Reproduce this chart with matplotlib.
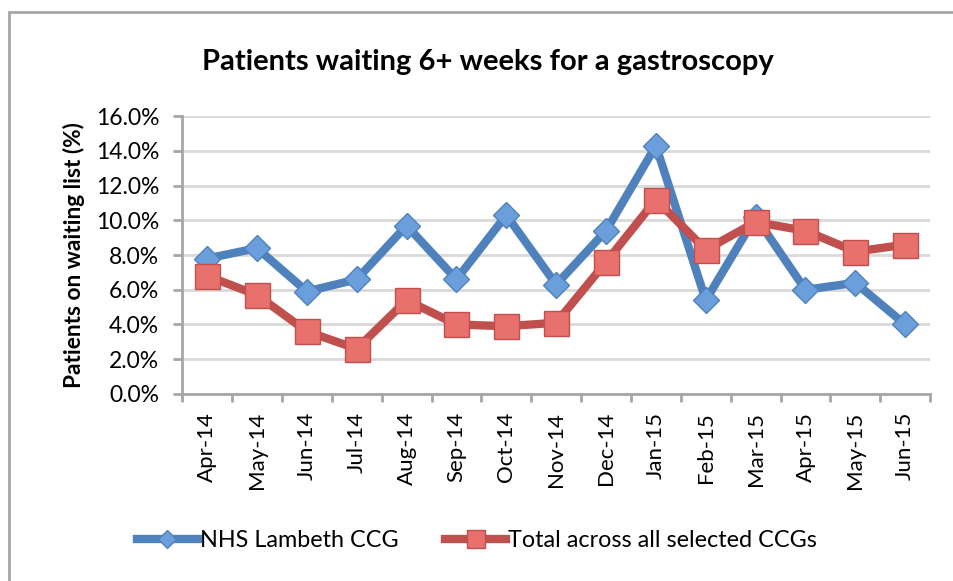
import matplotlib.pyplot as plt
from matplotlib.patches import Rectangle
from matplotlib.ticker import FuncFormatter, FixedLocator

plt.rcParams['font.family'] = ['Lato', 'DejaVu Sans']

months = ["Apr-14", "May-14", "Jun-14", "Jul-14", "Aug-14", "Sep-14", "Oct-14",
          "Nov-14", "Dec-14", "Jan-15", "Feb-15", "Mar-15", "Apr-15", "May-15",
          "Jun-15"]
lambeth = [7.8, 8.4, 5.9, 6.6, 9.7, 6.6, 10.3, 6.3, 9.4, 14.3, 5.4, 10.2,
           6.0, 6.4, 4.0]
total = [6.8, 5.7, 3.6, 2.6, 5.4, 4.0, 3.9, 4.1, 7.6, 11.2, 8.3, 9.9, 9.4,
         8.2, 8.6]

fig = plt.figure(figsize=(9.54, 5.81), dpi=100)
ax = fig.add_axes([0.191, 0.322, 0.784, 0.478])

# chart frame
fig.patches.append(Rectangle((9 / 954, -0.1), 1.2, 1 - 12 / 581 + 0.1,
                             transform=fig.transFigure, fill=False,
                             edgecolor="#a6a6a6", linewidth=2))

x = list(range(len(months)))
ax.plot(x, lambeth, color="#4f81bd", linewidth=6, marker="D",
        markersize=13, markerfacecolor="#6a9fdc", markeredgecolor="#4f81bd",
        markeredgewidth=1, label="NHS Lambeth CCG", zorder=3)
ax.plot(x, total, color="#c0504d", linewidth=6, marker="s",
        markersize=18, markerfacecolor="#e8706d", markeredgecolor="#c0504d",
        markeredgewidth=1, label="Total across all selected CCGs", zorder=4)

ax.set_xlim(-0.5, len(months) - 0.5)
ax.set_ylim(0, 16)
ax.set_yticks([0, 2, 4, 6, 8, 10, 12, 14, 16])
ax.yaxis.set_major_formatter(FuncFormatter(lambda v, p: f"{v:.1f}%"))
ax.set_xticks(x)
ax.set_xticklabels(months, rotation=90)
ax.xaxis.set_minor_locator(FixedLocator([i + 0.5 for i in range(-1, len(months))]))
ax.tick_params(axis="x", which="major", length=0, labelsize=16, pad=13)
ax.tick_params(axis="x", which="minor", length=6, width=2, color="#a6a6a6")
ax.tick_params(axis="y", length=6.5, width=2, color="#a6a6a6", labelsize=16.5,
               pad=10)

ax.grid(axis="y", color="#d9d9d9", linewidth=2)
ax.set_axisbelow(True)
for s in ["top", "right"]:
    ax.spines[s].set_visible(False)
for s in ["left", "bottom"]:
    ax.spines[s].set_color("#a6a6a6")
    ax.spines[s].set_linewidth(2)

ax.set_ylabel("Patients on waiting list (%)", fontsize=16.3, fontweight="bold",
              labelpad=8)
fig.text(0.511, 0.893, "Patients waiting 6+ weeks for a gastroscopy",
         ha="center", va="center", fontsize=21, fontweight="bold")

fig.legend(loc="center", bbox_to_anchor=(0.5, 0.07), ncol=2, frameon=False,
           fontsize=16.8, handlelength=2.6, handletextpad=0.1, columnspacing=2.0,
           markerscale=0.7)

fig.savefig("out.png", dpi=100)
